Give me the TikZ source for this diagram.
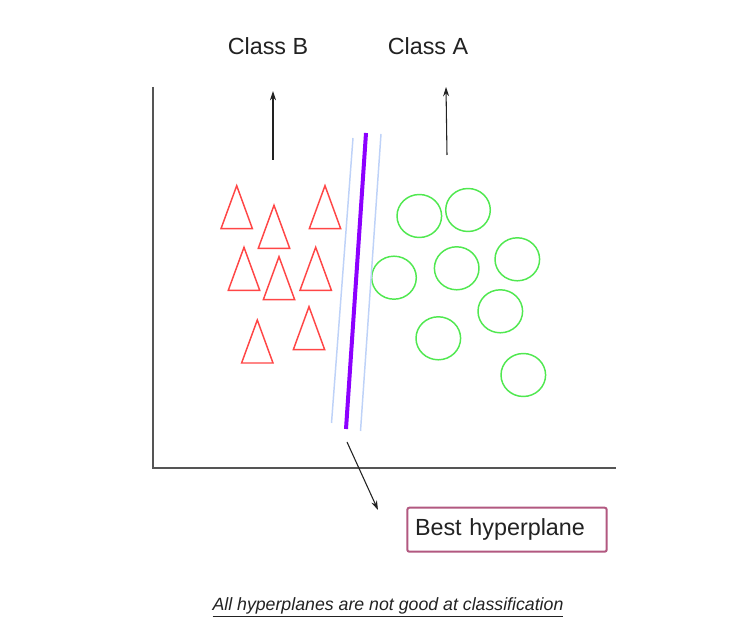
\documentclass[tikz,border=0pt]{standalone}
\usepackage{fontspec}
\setmainfont{Liberation Sans}
\usetikzlibrary{arrows.meta}
\definecolor{axisgray}{RGB}{85,85,85}
\definecolor{trired}{RGB}{255,70,70}
\definecolor{circgreen}{RGB}{80,232,80}
\definecolor{hypviolet}{RGB}{140,0,255}
\definecolor{marginblue}{RGB}{190,210,248}
\definecolor{boxpink}{RGB}{178,88,128}
\definecolor{txtdark}{RGB}{34,34,34}
\tikzset{
  axisline/.style={draw=axisgray,line width=1.5pt},
  tri/.style={draw=trired,line width=1.1pt,line join=miter},
  circ/.style={draw=circgreen,line width=1.1pt},
  pointer/.style={draw=txtdark,line width=0.8pt,-{Stealth[length=7pt,width=4.5pt]}},
  classlabel/.style={text=txtdark,font=\fontsize{17.5}{20}\selectfont,inner sep=0pt},
  bestbox/.style={draw=boxpink,line width=1.5pt,rounded corners=1.5pt,text=txtdark,
    font=\fontsize{17.5}{20}\selectfont,minimum width=149.5pt,minimum height=33pt,
    inner sep=0pt,text width=138pt,align=left},
  caption/.style={text=txtdark,font=\fontsize{13.3}{15}\selectfont\itshape,inner sep=0pt}
}
\begin{document}
\begin{tikzpicture}[x=0.75pt,y=-0.75pt]
\useasboundingbox[fill=white] (0,0) rectangle (747,623);
% axes
\coordinate (yaxtop) at (153,87);
\coordinate (origin) at (153,468);
\coordinate (xaxend) at (616,468);
\draw[axisline] (yaxtop) -- (origin) -- (xaxend);
% labels
\node[classlabel] (classB) at (268,46) {Class B};
\node[classlabel] (classA) at (428,46) {Class A};
\coordinate (bArrS) at (273,160);
\coordinate (bArrE) at (273,91);
\coordinate (aArrS) at (447,155);
\coordinate (aArrE) at (446,87);
\draw[pointer] (bArrS) -- (bArrE);
\draw[pointer] (aArrS) -- (aArrE);
% triangles: apex x, apex y
\foreach \ax/\ay in {236.7/185.7, 274/205.3, 325/185.7, 244/247.3, 279/256.7, 315.7/247.3, 257.3/320, 309/306.7}{
  \draw[tri] (\ax,\ay) -- ++(15.7,43) -- ++(-31.4,0) -- cycle;
}
% circles
\foreach \cx/\cy in {419.3/216, 468/210, 394/277.7, 456.7/268.3, 517.3/259.3, 500.3/311.3, 438.3/338.3, 523.3/375}{
  \draw[circ] (\cx,\cy) ellipse [x radius=22.3, y radius=21.5];
}
% hyperplane and margins
\coordinate (lbTop) at (353,138);
\coordinate (lbBot) at (331.5,423);
\coordinate (rbTop) at (381,134);
\coordinate (rbBot) at (360.5,431);
\coordinate (hpTop) at (366,133);
\coordinate (hpBot) at (346,429);
\draw[draw=marginblue,line width=1.1pt] (lbTop) -- (lbBot);
\draw[draw=marginblue,line width=1.1pt] (rbTop) -- (rbBot);
\draw[draw=hypviolet,line width=3pt] (hpTop) -- (hpBot);
% best hyperplane box
\node[bestbox] (best) at (507,529.7) {Best hyperplane};
\coordinate (hpPtrS) at (347,442);
\coordinate (hpPtrE) at (378,510);
\draw[pointer] (hpPtrS) -- (hpPtrE);
% caption
\node[caption] (cap) at (388,607) {\underline{All hyperplanes are not good at classification}};
\end{tikzpicture}
\end{document}
